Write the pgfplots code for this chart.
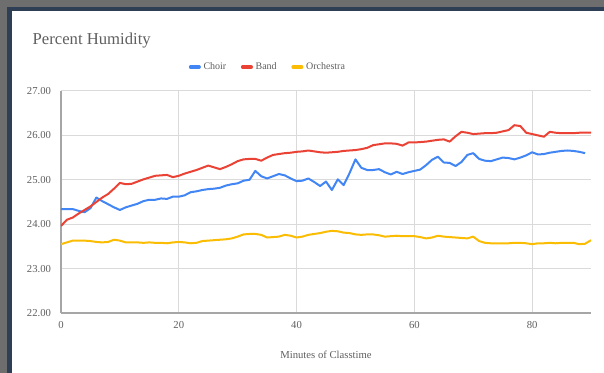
\documentclass[border=0pt]{standalone}
\usepackage{pgfplots}
\pgfplotsset{compat=1.18}
\usepackage{pgfplotstable}
\usepackage{fontspec}
\setmainfont{Liberation Serif}
\definecolor{gblue}{HTML}{4285F4}
\definecolor{gred}{HTML}{EA4335}
\definecolor{gorange}{HTML}{FBBC04}
\definecolor{txtgray}{HTML}{5F5F5F}
\definecolor{gridgray}{HTML}{DADADA}
\definecolor{framegray}{HTML}{6E6E6E}
\definecolor{framenavy}{HTML}{2E3F55}

\pgfplotstableread{
x choir band orch
0 24.34 23.96 23.55
1 24.34 24.10 23.59
2 24.34 24.15 23.63
3 24.30 24.24 23.63
4 24.27 24.32 23.63
5 24.36 24.40 23.62
6 24.60 24.50 23.60
7 24.52 24.60 23.59
8 24.45 24.68 23.60
9 24.38 24.80 23.65
10 24.32 24.93 23.63
11 24.38 24.90 23.59
12 24.42 24.91 23.59
13 24.46 24.96 23.59
14 24.52 25.01 23.58
15 24.55 25.05 23.59
16 24.55 25.09 23.58
17 24.58 25.10 23.58
18 24.57 25.11 23.57
19 24.62 25.06 23.59
20 24.62 25.09 23.60
21 24.65 25.14 23.59
22 24.72 25.18 23.57
23 24.74 25.22 23.58
24 24.77 25.27 23.62
25 24.79 25.32 23.63
26 24.80 25.28 23.64
27 24.82 25.24 23.65
28 24.87 25.29 23.66
29 24.90 25.35 23.68
30 24.92 25.42 23.72
31 24.98 25.46 23.77
32 25.00 25.47 23.78
33 25.20 25.47 23.78
34 25.08 25.43 23.76
35 25.03 25.50 23.70
36 25.08 25.56 23.71
37 25.13 25.58 23.72
38 25.10 25.60 23.76
39 25.03 25.61 23.74
40 24.97 25.63 23.70
41 24.98 25.64 23.72
42 25.03 25.66 23.76
43 24.95 25.64 23.78
44 24.86 25.62 23.80
45 24.96 25.61 23.83
46 24.77 25.62 23.85
47 25.01 25.63 23.84
48 24.88 25.65 23.81
49 25.15 25.66 23.80
50 25.46 25.67 23.77
51 25.27 25.69 23.76
52 25.22 25.72 23.77
53 25.22 25.78 23.77
54 25.24 25.80 23.75
55 25.17 25.82 23.72
56 25.12 25.82 23.73
57 25.18 25.81 23.74
58 25.13 25.77 23.73
59 25.17 25.84 23.73
60 25.20 25.84 23.73
61 25.23 25.85 23.71
62 25.33 25.86 23.68
63 25.45 25.88 23.70
64 25.52 25.90 23.74
65 25.39 25.91 23.72
66 25.38 25.86 23.71
67 25.31 25.98 23.70
68 25.40 26.08 23.69
69 25.56 26.06 23.68
70 25.60 26.03 23.72
71 25.47 26.04 23.62
72 25.43 26.05 23.58
73 25.42 26.05 23.57
74 25.46 26.06 23.57
75 25.50 26.09 23.57
76 25.49 26.12 23.57
77 25.46 26.23 23.58
78 25.50 26.21 23.58
79 25.55 26.06 23.57
80 25.62 26.03 23.55
81 25.57 26.00 23.57
82 25.58 25.97 23.57
83 25.61 26.08 23.58
84 25.63 26.06 23.57
85 25.65 26.05 23.58
86 25.66 26.05 23.58
87 25.65 26.05 23.58
88 25.63 26.06 23.55
89 25.60 26.06 23.56
90 nan 26.06 23.64
}\humidity

\begin{document}
\begin{tikzpicture}
\useasboundingbox (0pt,0pt) rectangle (453pt,279.75pt);
\fill[framegray] (0pt,0pt) rectangle (453pt,279.75pt);
\fill[framenavy] (5.25pt,0pt) rectangle (453pt,274.5pt);
\fill[white] (9pt,0pt) rectangle (453pt,271.5pt);
\node[anchor=base west, text=txtgray, font=\fontsize{12.5}{14}\selectfont] at (21pt,246pt) {Percent Humidity};
\begin{axis}[
  at={(45.75pt,45pt)}, anchor=south west,
  scale only axis,
  width=397.5pt, height=166.5pt,
  xmin=0, xmax=90, ymin=22, ymax=27,
  xtick={0,20,40,60,80},
  ytick={22,23,24,25,26,27},
  axis lines=left,
  axis line style={-, draw=gray!70, line width=1pt},
  grid=major,
  major grid style={draw=gridgray, line width=0.75pt},
  major tick length=0pt,
  tick label style={text=txtgray, font=\fontsize{8}{9}\selectfont},
  yticklabel style={xshift=-4pt},
  xticklabel style={yshift=-3pt},
  /pgf/number format/assume math mode=true,
  yticklabel style={/pgf/number format/.cd, fixed, fixed zerofill, precision=2},
  xticklabel style={/pgf/number format/.cd, fixed, precision=0},
  xlabel={Minutes of Classtime},
  xlabel style={text=txtgray, font=\fontsize{8}{9}\selectfont, yshift=-10pt},
  legend columns=-1,
  legend style={at={(0.391,1.108)}, anchor=center, draw=none, fill=none,
    font=\fontsize{7.5}{9}\selectfont, text=txtgray,
    /tikz/every even column/.append style={column sep=9pt}},
  legend image code/.code={\draw[#1, line width=2.5pt, line cap=round] (0pt,0pt) -- (6.5pt,0pt);},
  every axis plot/.append style={line width=1.5pt, line join=round},
]
\addplot[gblue, no markers] table[x=x, y=choir] {\humidity};
\addlegendentry{Choir}
\addplot[gred, no markers] table[x=x, y=band] {\humidity};
\addlegendentry{Band}
\addplot[gorange, no markers] table[x=x, y=orch] {\humidity};
\addlegendentry{Orchestra}
\end{axis}
\end{tikzpicture}
\end{document}
